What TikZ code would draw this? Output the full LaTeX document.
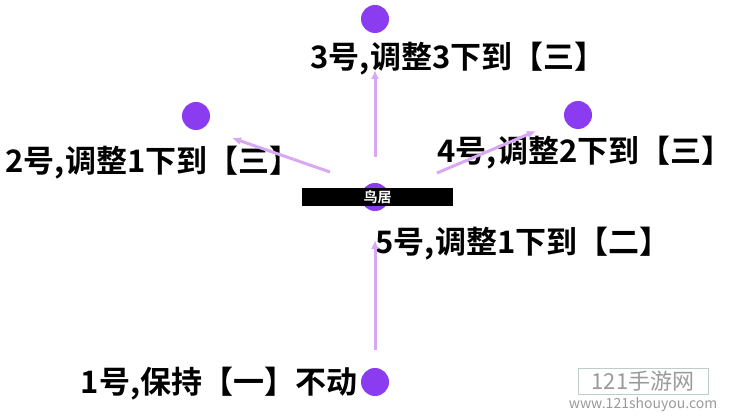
\documentclass[tikz,border=0pt]{standalone}
\usepackage{fontspec}
\setmainfont{Noto Sans CJK SC}
\newfontfamily\labelfont{Noto Sans CJK SC Bold}
\usepackage{xcolor}
\definecolor{colorDot}{HTML}{8B3CF0}
\definecolor{colorMove}{HTML}{D8A9F2}
\definecolor{colorMark}{HTML}{9A9A9A}
\usetikzlibrary{arrows.meta, positioning}
\tikzset{
  dot/.style={circle, fill=colorDot, minimum size=28pt, inner sep=0pt},
  move/.style={-{Latex[length=9pt, width=8pt]}, colorMove, line width=3pt},
  tip/.style={font=\labelfont\fontsize{31}{31}\selectfont, inner sep=0pt}
}
\begin{document}
\begin{tikzpicture}[x=1pt, y=1pt]
\useasboundingbox (0,0) rectangle (744,417);
% dots
\node[dot] (d3) at (375,398) {};
\node[dot] (d2) at (196,301) {};
\node[dot] (d4) at (578,302) {};
\node[dot] (d0) at (375,220) {};
\node[dot] (d1) at (375,35) {};
% the bar
\node[fill=black, minimum width=151pt, minimum height=18pt, inner sep=0pt, text=white, font=\labelfont\fontsize{14}{14}\selectfont] (bar) at (377.5,220) {鸟居};
% labels
\node[tip] (t3) at (458,358) {3号,调整3下到【三】};
\node[tip] (t2) at (153,254) {2号,调整1下到【三】};
\node[tip] (t4) at (585,264) {4号,调整2下到【三】};
\node[tip] (t5) at (523,173) {5号,调整1下到【二】};
\node[tip] (t1) at (219,33) {1号,保持【一】不动};
% moves
\coordinate (s3) at (375,260);
\coordinate (e3) at (375,347);
\coordinate (s2) at (330,245);
\coordinate (e2) at (232,279);
\coordinate (s4) at (437,244);
\coordinate (e4) at (536,286);
\coordinate (s1) at (375,67);
\coordinate (e1) at (375,177);
\draw[move] (s3) -- (e3);
\draw[move] (s2) -- (e2);
\draw[move] (s4) -- (e4);
\draw[move] (s1) -- (e1);
% watermark
\node[draw=teal!30!gray!40, text=colorMark, minimum width=130pt, minimum height=26pt, inner sep=0pt, font=\fontsize{22}{22}\selectfont] (mark) at (643,36) {121手游网};
\node[text=colorMark, font=\fontsize{14}{14}\selectfont, below=0pt of mark] (url) {www.121shouyou.com};
\end{tikzpicture}
\end{document}
